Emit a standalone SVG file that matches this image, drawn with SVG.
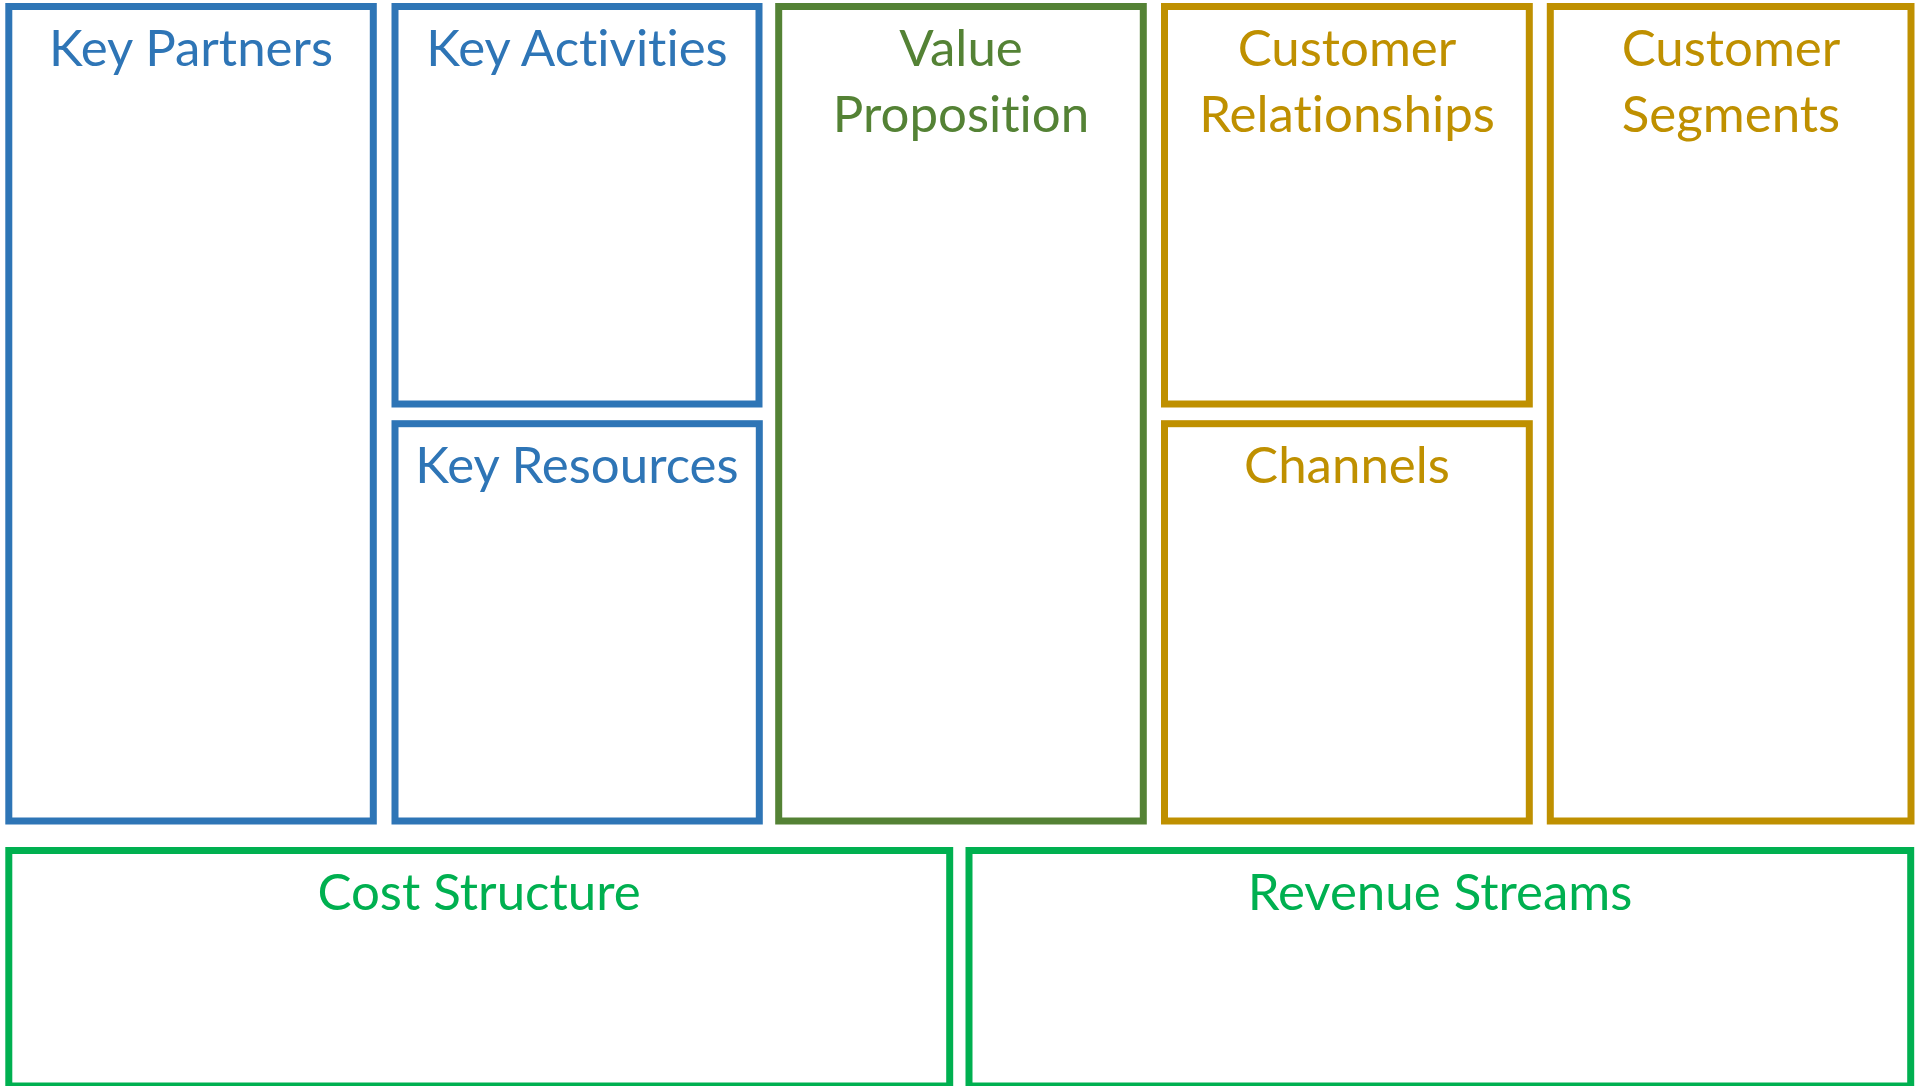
<svg xmlns="http://www.w3.org/2000/svg" width="1917" height="1086" viewBox="0 0 1917 1086">
<style>
rect{fill:#fff;stroke-width:7}
text{font-family:Lato,"Open Sans","Liberation Sans",sans-serif;font-size:51px;text-anchor:middle;font-variant-ligatures:none;font-feature-settings:"liga" 0}
.b rect{stroke:#2E75B6}.b text{fill:#2E75B6}
.v rect{stroke:#548235}.v text{fill:#548235}
.y rect{stroke:#BF9000}.y text{fill:#BF9000}
.g rect{stroke:#00B050}.g text{fill:#00B050}
</style>
<rect x="0" y="0" width="1917" height="1086" style="fill:#fff;stroke:none"/>
<g id="key-partners" class="b"><rect x="8.8" y="6.5" width="364.5" height="814.5"/><text x="191" y="66">Key Partners</text></g>
<g id="key-activities" class="b"><rect x="395" y="6.5" width="364" height="397.5"/><text x="577" y="66">Key Activities</text></g>
<g id="key-resources" class="b"><rect x="395" y="423.7" width="364.3" height="397.3"/><text x="577" y="483">Key Resources</text></g>
<g id="value-proposition" class="v"><rect x="778.7" y="6.5" width="364.6" height="814.5"/><text x="961" y="66">Value</text><text x="961" y="132">Proposition</text></g>
<g id="customer-relationships" class="y"><rect x="1164.5" y="6.5" width="364.8" height="397.5"/><text x="1347" y="66">Customer</text><text x="1347" y="132">Relationships</text></g>
<g id="channels" class="y"><rect x="1164.5" y="423.7" width="364.8" height="397.3"/><text x="1347" y="483">Channels</text></g>
<g id="customer-segments" class="y"><rect x="1550.3" y="6.5" width="360.7" height="814.5"/><text x="1731" y="66">Customer</text><text x="1731" y="132">Segments</text></g>
<g id="cost-structure" class="g"><rect x="8.8" y="850.5" width="940.9" height="235.5"/><text x="479" y="910">Cost Structure</text></g>
<g id="revenue-streams" class="g"><rect x="969" y="850.5" width="941.7" height="235.5"/><text x="1440" y="910">Revenue Streams</text></g>
<g id="connectors"></g>
</svg>
